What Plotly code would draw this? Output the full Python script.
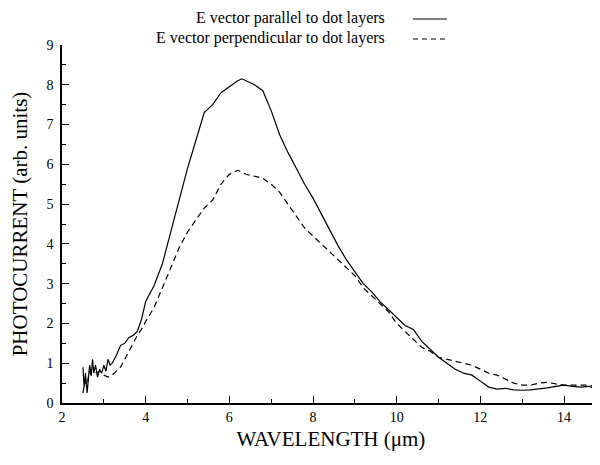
import plotly.graph_objects as go

# Parallel polarization (solid)
x_par = [2.50, 2.53, 2.56, 2.60, 2.63, 2.66, 2.70, 2.73, 2.76, 2.80, 2.85, 2.90, 2.95, 3.00, 3.05, 3.10,
         3.15, 3.20, 3.30, 3.40, 3.50, 3.60, 3.70, 3.80, 3.90, 4.00, 4.20, 4.40, 4.60, 4.80, 5.00,
         5.20, 5.40, 5.50, 5.60, 5.80, 6.00, 6.20, 6.30, 6.40, 6.60, 6.80, 7.00, 7.20, 7.40, 7.60,
         7.80, 8.00, 8.20, 8.40, 8.60, 8.80, 9.00, 9.20, 9.40, 9.60, 9.80, 10.00, 10.20, 10.40,
         10.60, 10.80, 11.00, 11.20, 11.40, 11.60, 11.80, 12.00, 12.20, 12.40, 12.60, 12.80,
         13.00, 13.20, 13.40, 13.60, 13.80, 14.00, 14.20, 14.40, 14.60, 14.80, 15.00]
y_par = [0.90, 0.40, 0.75, 0.25, 0.60, 0.95, 0.70, 1.10, 0.75, 0.95, 0.65, 0.85, 0.75, 0.95, 0.80, 1.10,
         0.95, 1.00, 1.20, 1.45, 1.50, 1.65, 1.70, 1.80, 2.10, 2.55, 2.95, 3.50, 4.30, 5.10, 5.90,
         6.60, 7.30, 7.40, 7.50, 7.80, 7.95, 8.10, 8.15, 8.10, 8.00, 7.85, 7.35, 6.75, 6.30, 5.90,
         5.50, 5.15, 4.75, 4.35, 3.95, 3.60, 3.30, 3.00, 2.80, 2.55, 2.35, 2.15, 1.95, 1.85,
         1.55, 1.35, 1.15, 1.00, 0.85, 0.75, 0.70, 0.55, 0.40, 0.35, 0.37, 0.33,
         0.32, 0.33, 0.35, 0.38, 0.42, 0.45, 0.42, 0.40, 0.42, 0.33, 0.40]

# Perpendicular polarization (dashed)
x_perp = [2.50, 2.55, 2.60, 2.65, 2.70, 2.80, 2.90, 3.00, 3.10, 3.20, 3.30, 3.40, 3.50, 3.60, 3.70,
          3.80, 3.90, 4.00, 4.20, 4.40, 4.60, 4.80, 5.00, 5.20, 5.40, 5.60, 5.80, 6.00, 6.20,
          6.40, 6.60, 6.80, 7.00, 7.20, 7.40, 7.60, 7.80, 8.00, 8.20, 8.40, 8.60, 8.80, 9.00,
          9.20, 9.40, 9.60, 9.80, 10.00, 10.20, 10.40, 10.60, 10.80, 11.00, 11.20, 11.40, 11.60,
          11.80, 12.00, 12.20, 12.40, 12.60, 12.80, 13.00, 13.20, 13.40, 13.60, 13.80, 14.00,
          14.20, 14.40, 14.60, 14.80, 15.00]
y_perp = [0.25, 0.55, 0.45, 0.80, 0.70, 0.75, 0.80, 0.70, 0.65, 0.70, 0.80, 0.90, 1.10, 1.30, 1.50,
          1.70, 1.85, 2.05, 2.40, 2.90, 3.40, 3.90, 4.30, 4.60, 4.90, 5.10, 5.50, 5.75, 5.85,
          5.75, 5.70, 5.65, 5.50, 5.30, 5.00, 4.70, 4.40, 4.20, 4.00, 3.80, 3.60, 3.40, 3.20,
          2.90, 2.70, 2.50, 2.30, 2.00, 1.80, 1.60, 1.40, 1.30, 1.15, 1.10, 1.05, 1.00,
          0.95, 0.85, 0.75, 0.70, 0.60, 0.50, 0.45, 0.45, 0.50, 0.52, 0.48, 0.45,
          0.45, 0.45, 0.45, 0.40, 0.40]

series_names = ["E vector parallel to dot layers", "E vector perpendicular to dot layers"]

FONT = "Liberation Serif"

# Page has an 8px body margin: figure drawn at (8, 8) in the window.
W, H = 592, 457
L, T, B, R = 54, 37, 62, 0
PW, PH = W - L - R, H - T - B

def px_to_paper(wx, wy):
    fx, fy = wx - 8, wy - 8
    return (fx - L) / PW, (H - B - fy) / PH

fig = go.Figure()
fig.add_trace(go.Scatter(x=x_par, y=y_par, mode="lines", name=series_names[0],
                         line=dict(color="black", width=1.2, dash="solid")))
fig.add_trace(go.Scatter(x=x_perp, y=y_perp, mode="lines", name=series_names[1],
                         line=dict(color="black", width=1.2, dash="6px,4px")))

anns = []
shapes = []
for i, name in enumerate(series_names):
    ax, ay = px_to_paper(387, 18 + 20 * i)
    anns.append(dict(x=ax, y=ay, xref="paper", yref="paper",
                     text=name, showarrow=False, xanchor="right", yanchor="middle",
                     font=dict(family=FONT, size=16, color="black")))
    x0, yy = px_to_paper(413, 19 + 20 * i)
    x1, _ = px_to_paper(447, 19 + 20 * i)
    shapes.append(dict(type="line", xref="paper", yref="paper",
                       x0=x0, x1=x1, y0=yy, y1=yy,
                       line=dict(color="black", width=1.2, dash=["solid", "5px,4px"][i])))

fig.update_layout(
    width=W, height=H,
    margin=dict(l=L, r=R, t=T, b=B, pad=0),
    plot_bgcolor="white", paper_bgcolor="white",
    showlegend=False,
    font=dict(family=FONT, size=14, color="black"),
    annotations=anns, shapes=shapes,
)
fig.update_xaxes(range=[2, 14.86], dtick=2, tick0=2, ticks="inside", ticklen=7, tickwidth=1.2,
                 tickcolor="black", showline=True, linecolor="black", linewidth=1.5,
                 showgrid=False, zeroline=False, tickfont=dict(family=FONT, size=14),
                 automargin=False,
                 minor=dict(dtick=1, tick0=2, ticks="inside", ticklen=4, tickcolor="black"),
                 title=dict(text="WAVELENGTH (μm)", font=dict(family=FONT, size=21), standoff=8))
fig.update_yaxes(range=[0, 9], dtick=1, ticks="inside", ticklen=7, tickwidth=1.2,
                 tickcolor="black", showline=True, linecolor="black", linewidth=1.5,
                 showgrid=False, zeroline=False, tickfont=dict(family=FONT, size=14),
                 ticklabelstandoff=4, automargin=False,
                 minor=dict(dtick=0.5, ticks="inside", ticklen=4, tickcolor="black"),
                 title=dict(text="PHOTOCURRENT (arb. units)", font=dict(family=FONT, size=21), standoff=14))

fig.write_html("out.html")
